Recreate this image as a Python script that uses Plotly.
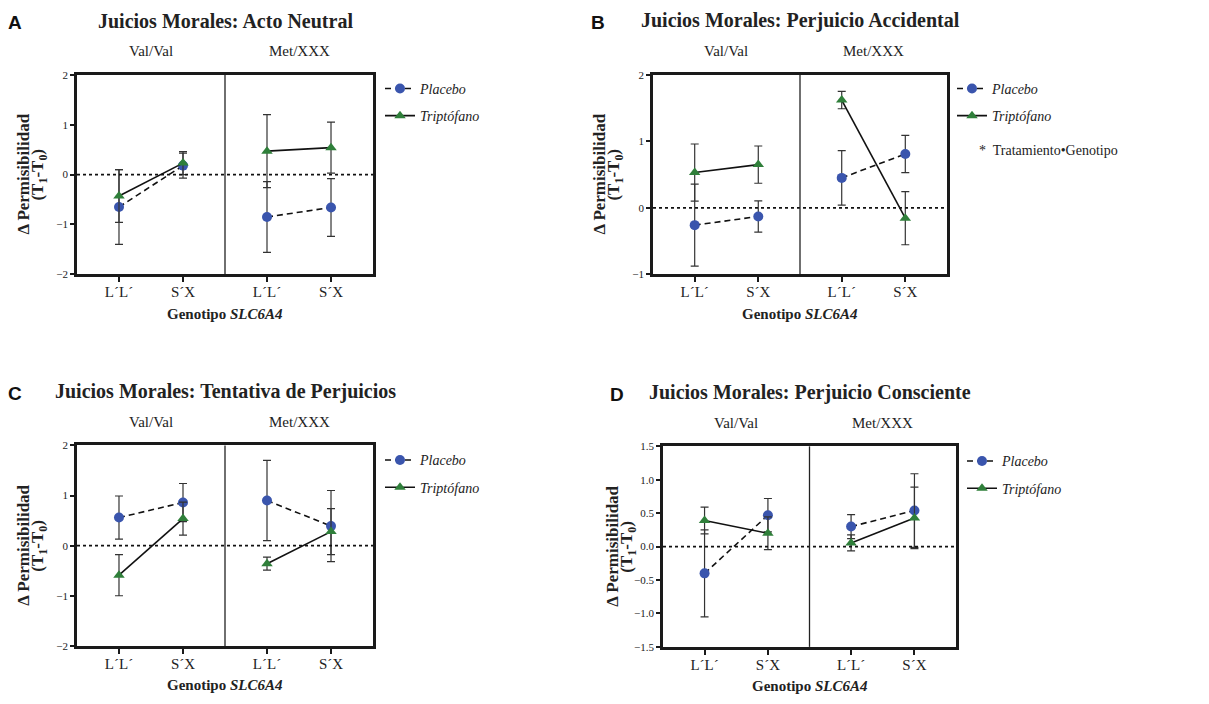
import plotly.graph_objects as go

W, H = 1209, 704

GENOTYPES = ["L´L´", "S´X"]
GROUPS = ["Val/Val", "Met/XXX"]
SERIES = ["Placebo", "Triptófano"]

# order: Val L'L', Val S'X, Met L'L', Met S'X
A_placebo_mean = [-0.65, 0.18, -0.85, -0.66]
A_placebo_se = [0.75, 0.25, 0.71, 0.58]
A_trip_mean = [-0.43, 0.23, 0.47, 0.54]
A_trip_se = [0.53, 0.23, 0.73, 0.51]

B_placebo_mean = [-0.26, -0.13, 0.45, 0.81]
B_placebo_se = [0.615, 0.235, 0.41, 0.28]
B_trip_mean = [0.53, 0.65, 1.62, -0.155]
B_trip_se = [0.43, 0.28, 0.13, 0.40]

C_placebo_mean = [0.56, 0.86, 0.90, 0.39]
C_placebo_se = [0.43, 0.38, 0.80, 0.71]
C_trip_mean = [-0.59, 0.54, -0.36, 0.28]
C_trip_se = [0.41, 0.33, 0.13, 0.46]

D_placebo_mean = [-0.40, 0.47, 0.30, 0.54]
D_placebo_se = [0.65, 0.25, 0.18, 0.55]
D_trip_mean = [0.39, 0.20, 0.055, 0.43]
D_trip_se = [0.20, 0.245, 0.12, 0.46]

TITLES = ["Juicios Morales: Acto Neutral", "Juicios Morales: Perjuicio Accidental",
          "Juicios Morales: Tentativa de Perjuicios", "Juicios Morales: Perjuicio Consciente"]
LETTERS = ["A", "B", "C", "D"]
Y_RANGES = [[-2, 2], [-1, 2], [-2, 2], [-1.5, 1.5]]
Y_DTICK = [1, 1, 1, 0.5]
Y_FMT = ["d", "d", "d", ".1f"]
INTERACTION_NOTE = "*  Tratamiento•Genotipo"

# layout (pixels)
PLOT_BOX = [(77, 70, 373, 273), (653, 70, 947, 273), (77, 447, 373, 651), (663, 448, 956, 652)]
LEGEND_LEFT = [380, 952, 380, 962]
LEGEND_TOP = [68, 68, 446, 447]

BLUE = "#3a55ad"
GREEN = "#2f7f3a"
SERIF = "Liberation Serif"
GAP = 1.3125
HALF = 0.656

panels = [
    (A_placebo_mean, A_placebo_se, A_trip_mean, A_trip_se),
    (B_placebo_mean, B_placebo_se, B_trip_mean, B_trip_se),
    (C_placebo_mean, C_placebo_se, C_trip_mean, C_trip_se),
    (D_placebo_mean, D_placebo_se, D_trip_mean, D_trip_se),
]

# category positions: two genotypes per group, groups separated by a gap
pos = []
for g in range(len(GROUPS)):
    for k in range(len(GENOTYPES)):
        pos.append(g * (len(GENOTYPES) - 1 + GAP) + k)
divider = (pos[1] + pos[2]) / 2
xrange_ = [pos[0] - HALF, pos[-1] + HALF]


def with_gap(vals):
    return vals[:2] + [None] + vals[2:]


fig = go.Figure()
annotations = []
shapes = []
layout = {}

for i, (pm, ps, tm, ts) in enumerate(panels):
    n = "" if i == 0 else str(i + 1)
    xa, ya = "x" + n, "y" + n
    lg = "legend" + n
    x0, y0, x1, y1 = PLOT_BOX[i]
    xs = with_gap(pos)
    fig.add_trace(go.Scatter(
        x=xs, y=with_gap(pm), xaxis=xa, yaxis=ya, mode="lines+markers",
        name="<i>" + SERIES[0] + "</i>", legend=lg, legendgroup="p" + n,
        line=dict(color="#111", width=1.6, dash="6px,4px"),
        marker=dict(symbol="circle", size=10, color=BLUE),
        error_y=dict(type="data", array=with_gap(ps), color="#333", thickness=1.2, width=4),
    ))
    fig.add_trace(go.Scatter(
        x=xs, y=with_gap(tm), xaxis=xa, yaxis=ya, mode="lines+markers",
        name="<i>" + SERIES[1] + "</i>", legend=lg, legendgroup="t" + n,
        line=dict(color="#111", width=1.6),
        marker=dict(symbol="triangle-up", size=10, color=GREEN),
        error_y=dict(type="data", array=with_gap(ts), color="#333", thickness=1.2, width=4),
    ))
    layout["xaxis" + n] = dict(
        domain=[x0 / W, x1 / W], anchor=ya, range=xrange_,
        tickmode="array", tickvals=pos, ticktext=GENOTYPES * 2,
        showline=True, linewidth=2.6, linecolor="#1a1a1a", mirror=True,
        ticks="outside", ticklen=5, tickwidth=2.4, tickcolor="#1a1a1a",
        showgrid=False, zeroline=False, ticklabelstandoff=-3,
        tickfont=dict(family=SERIF, size=15, color="#222"),
    )
    layout["yaxis" + n] = dict(
        domain=[1 - y1 / H, 1 - y0 / H], anchor=xa, range=Y_RANGES[i],
        dtick=Y_DTICK[i], tick0=0, tickformat=Y_FMT[i],
        showline=True, linewidth=2.6, linecolor="#1a1a1a", mirror=True,
        ticks="outside", ticklen=4, tickwidth=2.4, tickcolor="#1a1a1a",
        showgrid=False, zeroline=False,
        tickfont=dict(family=SERIF, size=11, color="#222"),
    )
    layout[lg] = dict(
        x=LEGEND_LEFT[i] / W, y=1 - LEGEND_TOP[i] / H, xanchor="left", yanchor="top",
        font=dict(family=SERIF, size=14, color="#222"), bgcolor="rgba(0,0,0,0)",
        traceorder="grouped", tracegroupgap=6,
    )
    # dotted zero line and group divider
    shapes.append(dict(type="line", xref=xa + " domain", yref=ya, x0=0, x1=1, y0=0, y1=0,
                       line=dict(color="#111", width=1.6, dash="dot")))
    shapes.append(dict(type="line", xref=xa, yref=ya + " domain", x0=divider, x1=divider, y0=0, y1=1,
                       line=dict(color="#222", width=1.3)))
    cx = (x0 + x1) / 2
    # title
    annotations.append(dict(text="<b>" + TITLES[i] + "</b>", x=cx / W, y=1 - (y0 - 55) / H,
                            xref="paper", yref="paper", showarrow=False, xanchor="center", yanchor="middle",
                            font=dict(family=SERIF, size=20, color="#222")))
    # panel letter
    lx = 15 if x0 < 600 else 598 if i == 1 else 617
    annotations.append(dict(text="<b>" + LETTERS[i] + "</b>", x=lx / W, y=1 - (y0 - 53) / H,
                            xref="paper", yref="paper", showarrow=False, xanchor="center", yanchor="middle",
                            font=dict(family="Liberation Sans", size=19, color="#111")))
    # group labels
    for g, label in enumerate(GROUPS):
        gx = (x0 + (x1 - x0) * ((pos[2 * g] + pos[2 * g + 1]) / 2 - xrange_[0]) / (xrange_[1] - xrange_[0]))
        annotations.append(dict(text=label, x=gx / W, y=1 - (y0 - 24) / H, xref="paper", yref="paper",
                                showarrow=False, xanchor="center", yanchor="middle",
                                font=dict(family=SERIF, size=15, color="#222")))
    # x axis title
    annotations.append(dict(text="<b>Genotipo <i>SLC6A4</i></b>", x=cx / W, y=1 - (y1 + 40) / H,
                            xref="paper", yref="paper", showarrow=False, xanchor="center", yanchor="middle",
                            font=dict(family=SERIF, size=15, color="#222")))
    # y axis title (two lines)
    cy = (y0 + y1) / 2
    off = 53 if i != 3 else 50
    annotations.append(dict(text="<b>Δ Permisibilidad</b>", x=(x0 - off) / W, y=1 - cy / H,
                            xref="paper", yref="paper", showarrow=False, textangle=-90,
                            xanchor="center", yanchor="middle",
                            font=dict(family=SERIF, size=17, color="#222")))
    annotations.append(dict(text="<b>(T<sub>1</sub>-T<sub>0</sub>)</b>", x=(x0 - off + 15) / W, y=1 - cy / H,
                            xref="paper", yref="paper", showarrow=False, textangle=-90,
                            xanchor="center", yanchor="middle",
                            font=dict(family=SERIF, size=17, color="#222")))

annotations.append(dict(text=INTERACTION_NOTE, x=977 / W, y=1 - 147 / H, xref="paper", yref="paper",
                        showarrow=False, xanchor="left", yanchor="middle",
                        font=dict(family=SERIF, size=14, color="#222")))

fig.update_layout(
    width=W, height=H, margin=dict(l=0, r=0, t=0, b=0),
    paper_bgcolor="white", plot_bgcolor="white",
    annotations=annotations, shapes=shapes, **layout,
)

fig.write_html("out.html")
